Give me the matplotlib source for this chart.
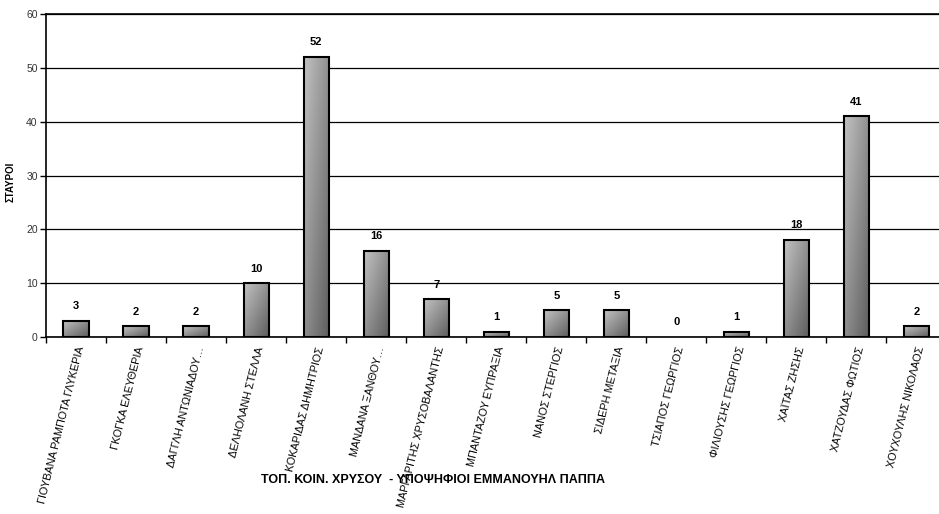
import numpy as np
import matplotlib
matplotlib.use("Agg")
import matplotlib.pyplot as plt
from matplotlib.patches import Rectangle

plt.rcParams['font.family'] = ['Liberation Sans', 'DejaVu Sans']

categories = ["ΓΙΟΥΒΑΝΑ ΡΑΜΠΟΤΑ ΓΛΥΚΕΡΙΑ", "ΓΚΟΓΚΑ ΕΛΕΥΘΕΡΙΑ", "ΔΑΓΓΛΗ ΑΝΤΩΝΙΑΔΟΥ…",
              "ΔΕΛΗΟΛΑΝΗ ΣΤΕΛΛΑ", "ΚΟΚΑΡΙΔΑΣ ΔΗΜΗΤΡΙΟΣ", "ΜΑΝΔΑΝΑ ΞΑΝΘΟΥ…",
              "ΜΑΡΓΑΡΙΤΗΣ ΧΡΥΣΟΒΑΛΑΝΤΗΣ", "ΜΠΑΝΤΑΖΟΥ ΕΥΠΡΑΞΙΑ", "ΝΑΝΟΣ ΣΤΕΡΓΙΟΣ",
              "ΣΙΔΕΡΗ ΜΕΤΑΞΙΑ", "ΤΣΙΑΠΟΣ ΓΕΩΡΓΙΟΣ", "ΦΙΛΙΟΥΣΗΣ ΓΕΩΡΓΙΟΣ",
              "ΧΑΪΤΑΣ ΖΗΣΗΣ", "ΧΑΤΖΟΥΔΑΣ ΦΩΤΙΟΣ", "ΧΟΥΧΟΥΛΗΣ ΝΙΚΟΛΑΟΣ"]
values = [3, 2, 2, 10, 52, 16, 7, 1, 5, 5, 0, 1, 18, 41, 2]
yticks = [0, 10, 20, 30, 40, 50, 60]

fig = plt.figure(figsize=(9.39, 5.14), dpi=100)
ax = fig.add_axes([0.049, 0.344, 0.959, 0.629])

x = np.arange(len(categories))
width = 0.42
u = np.linspace(0, 1, 48)[None, :]
t = np.linspace(1, 0, 96)[:, None]  # row 0 = top
grad = 0.76 - 0.20 * u - 0.20 * (1 - t)
for xi, v in zip(x, values):
    if v > 0:
        ax.imshow(grad, cmap='gray', vmin=0, vmax=1, aspect='auto',
                  extent=(xi - width / 2, xi + width / 2, 0, v), zorder=3,
                  interpolation='bilinear', origin='upper')
        ax.add_patch(Rectangle((xi - width / 2, 0), width, v, fill=False,
                               edgecolor='black', linewidth=1.5, zorder=4))
    ax.text(xi, v + 1.8, str(v), ha='center', va='bottom', fontsize=8,
            fontweight='bold', zorder=5)

ax.set_xlim(-0.5, len(categories) - 0.5)
ax.set_ylim(0, 60)
ax.set_yticks(yticks)
ax.set_yticklabels([str(t) for t in yticks], fontsize=7.5, color='#333333')
ax.yaxis.grid(True, color='black', linewidth=0.9, zorder=0)
ax.set_axisbelow(True)

ax.set_xticks(x)
ax.set_xticklabels(categories, rotation=76, ha='right', rotation_mode='anchor',
                   fontsize=7.8)
ax.tick_params(axis='x', length=0, pad=6)
ax.set_xticks(np.arange(-0.5, len(categories), 1.0), minor=True)
ax.tick_params(axis='x', which='minor', length=4, width=1, direction='out')
ax.tick_params(axis='y', length=4, width=1, direction='out', pad=2)

for s in ['left', 'bottom', 'top']:
    ax.spines[s].set_linewidth(1.2)
ax.spines['right'].set_visible(False)

ax.set_ylabel("ΣΤΑΥΡΟΙ", fontsize=7, fontweight='bold')
ax.yaxis.set_label_coords(-0.034, 0.48)
fig.text(0.461, 0.066, "ΤΟΠ. ΚΟΙΝ. ΧΡΥΣΟΥ  - ΥΠΟΨΗΦΙΟΙ ΕΜΜΑΝΟΥΗΛ ΠΑΠΠΑ",
         ha='center', va='center', fontsize=9, fontweight='bold')

fig.savefig("out.png", dpi=100)
